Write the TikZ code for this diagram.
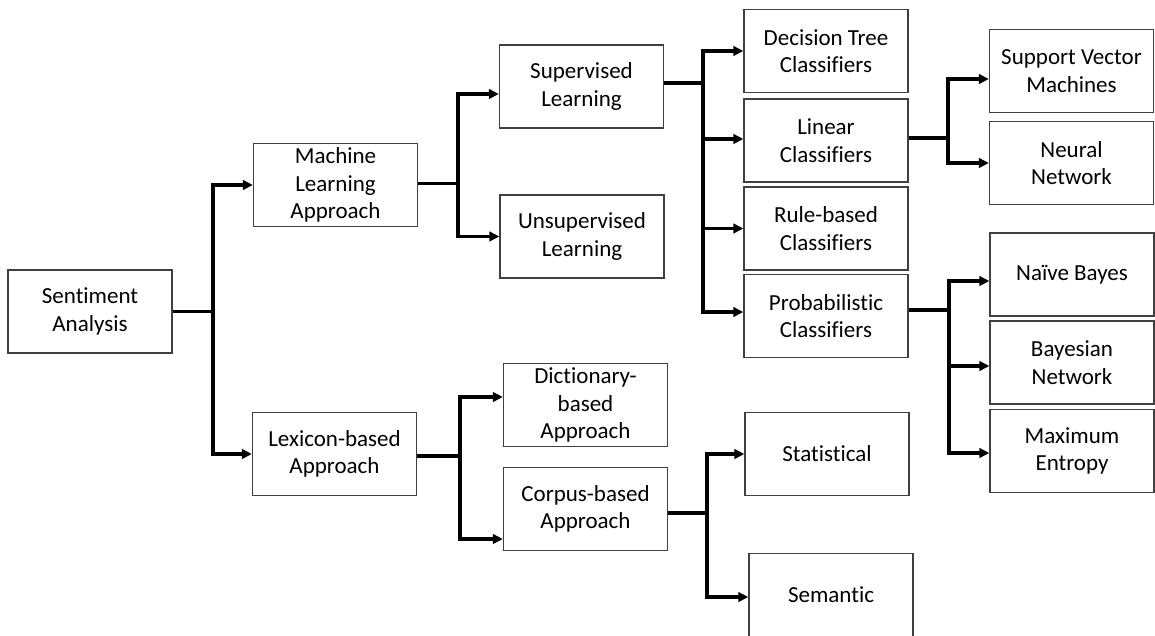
\documentclass[tikz,border=0pt]{standalone}
\usepackage{fontspec}
\setmainfont[Ligatures=NoCommon]{Carlito}
\usetikzlibrary{arrows.meta}
\begin{document}
\begin{tikzpicture}[x=1pt,y=-1pt,
  box/.style={draw=black!75, line width=1.3pt, fill=white, minimum width=164pt, minimum height=83pt,
    inner sep=0pt, align=center, font=\fontsize{23}{27.5}\selectfont},
  arr/.style={line width=3.6pt, draw=black, -{Triangle[length=10pt,width=9.5pt]}, line join=miter}]
\fill[white] (0,0) rectangle (1155,635);
\useasboundingbox (0,0) rectangle (1155,635);
\clip (0,0) rectangle (1155,635);
% nodes
\node[box] (sa) at (90,311.5) {Sentiment\\Analysis};
\node[box] (ml) at (335.5,185) {Machine\\Learning\\Approach};
\node[box] (lex) at (334.5,454) {Lexicon-based\\Approach};
\node[box] (sup) at (581.5,86.5) {Supervised\\Learning};
\node[box] (uns) at (582,236.5) {Unsupervised\\Learning};
\node[box] (dict) at (585.5,405) {Dictionary-\\based\\Approach};
\node[box] (corp) at (585.5,509) {Corpus-based\\Approach};
\node[box] (dt) at (826,51) {Decision Tree\\Classifiers};
\node[box] (lin) at (826,140.5) {Linear\\Classifiers};
\node[box] (rule) at (826,228.5) {Rule-based\\Classifiers};
\node[box] (prob) at (826,316) {Probabilistic\\Classifiers};
\node[box] (stat) at (827,454) {Statistical};
\node[box] (sem) at (831,595) {Semantic};
\node[box] (svm) at (1071.5,71) {Support Vector\\Machines};
\node[box] (nn) at (1071.5,163) {Neural\\Network};
\node[box] (nb) at (1072,274.5) {Naïve Bayes};
\node[box] (bn) at (1072,362.5) {Bayesian\\Network};
\node[box] (me) at (1072,451) {Maximum\\Entropy};
% junction columns
\coordinate (j1) at (213,0);
\coordinate (j2) at (458,0);
\coordinate (j3) at (460,0);
\coordinate (j4) at (703,0);
\coordinate (j5) at (707,0);
\coordinate (j6) at (948,0);
\coordinate (j7) at (949,0);
% connectors
\draw[arr] (sa.east) -| (j1 |- ml.west) -- (ml.west);
\draw[arr] (sa.east) -| (j1 |- lex.west) -- (lex.west);
\draw[arr] ([yshift=1.5pt]ml.east) -| ([yshift=-7.5pt]j2 |- sup.west) -- ([yshift=-7.5pt]sup.west);
\draw[arr] ([yshift=1.5pt]ml.east) -| (j2 |- uns.west) -- (uns.west);
\draw[arr] ([yshift=-2pt]lex.east) -| ([yshift=8pt]j3 |- dict.west) -- ([yshift=8pt]dict.west);
\draw[arr] ([yshift=-2pt]lex.east) -| ([yshift=-30pt]j3 |- corp.west) -- ([yshift=-30pt]corp.west);
\draw[arr] ([yshift=3.5pt]sup.east) -| (j4 |- dt.west) -- (dt.west);
\draw[arr] ([yshift=3.5pt]sup.east) -| ([yshift=1.5pt]j4 |- lin.west) -- ([yshift=1.5pt]lin.west);
\draw[arr] ([yshift=3.5pt]sup.east) -| (j4 |- rule.west) -- (rule.west);
\draw[arr] ([yshift=3.5pt]sup.east) -| ([yshift=4pt]j4 |- prob.west) -- ([yshift=4pt]prob.west);
\draw[arr] ([yshift=-4pt]corp.east) -| (j5 |- stat.west) -- (stat.west);
\draw[arr] ([yshift=-4pt]corp.east) -| ([yshift=-2pt]j5 |- sem.west) -- ([yshift=-2pt]sem.west);
\draw[arr] ([yshift=2.5pt]lin.east) -| ([yshift=-8pt]j6 |- svm.west) -- ([yshift=-8pt]svm.west);
\draw[arr] ([yshift=2.5pt]lin.east) -| (j6 |- nn.west) -- (nn.west);
\draw[arr] ([yshift=6pt]prob.east) -| ([yshift=-6.5pt]j7 |- nb.west) -- ([yshift=-6.5pt]nb.west);
\draw[arr] ([yshift=6pt]prob.east) -| ([yshift=-3.5pt]j7 |- bn.west) -- ([yshift=-3.5pt]bn.west);
\draw[arr] ([yshift=6pt]prob.east) -| ([yshift=-2pt]j7 |- me.west) -- ([yshift=-2pt]me.west);
\end{tikzpicture}
\end{document}
